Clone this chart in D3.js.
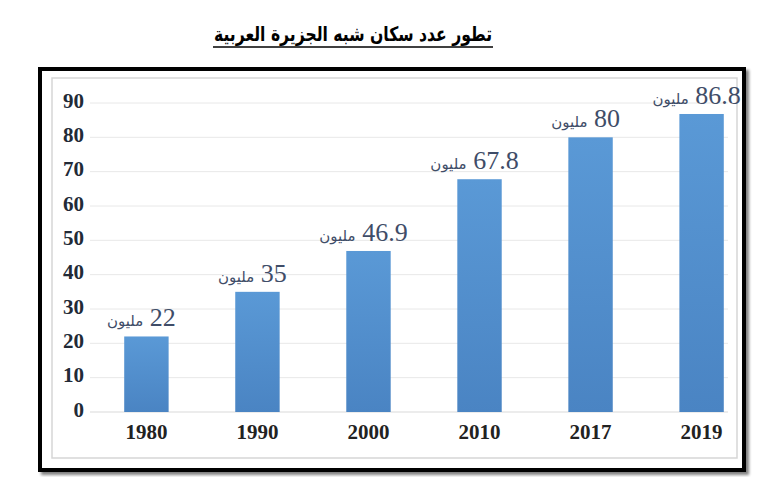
<!DOCTYPE html>
<html>
<head>
<meta charset="utf-8">
<script src="https://cdn.jsdelivr.net/npm/d3@7"></script>
<style>
  body { margin: 0; background: #fff; }
</style>
</head>
<body>
<div id="chart"></div>
<script>

var titleText = 'تطور عدد سكان شبه الجزيرة العربية';
var unitText = 'مليون';
var years = ['1980', '1990', '2000', '2010', '2017', '2019'];
var population = [22, 35, 46.9, 67.8, 80, 86.8];
var yTicks = [0, 10, 20, 30, 40, 50, 60, 70, 80, 90];

var width = 771;
var height = 477;

var svg = d3.select('#chart')
  .append('svg')
  .attr('width', width)
  .attr('height', height);

var defs = svg.append('defs');

var grad = defs.append('linearGradient')
  .attr('id', 'barFill')
  .attr('x1', 0).attr('y1', 0)
  .attr('x2', 0).attr('y2', 1);
grad.append('stop').attr('offset', '0%').attr('stop-color', '#5a99d6');
grad.append('stop').attr('offset', '100%').attr('stop-color', '#4a84c3');

var shadow = defs.append('filter').attr('id', 'shadow')
  .attr('x', '-5%').attr('y', '-5%').attr('width', '110%').attr('height', '110%');
shadow.append('feGaussianBlur').attr('in', 'SourceAlpha').attr('stdDeviation', 1.5);
shadow.append('feOffset').attr('dx', 3).attr('dy', 3).attr('result', 'off');
shadow.append('feComponentTransfer').append('feFuncA').attr('type', 'linear').attr('slope', 0.5);
var merge = shadow.append('feMerge');
merge.append('feMergeNode');
merge.append('feMergeNode').attr('in', 'SourceGraphic');

// title + underline
var title = svg.append('text')
  .attr('x', 353)
  .attr('y', 41)
  .attr('text-anchor', 'middle')
  .attr('font-family', 'DejaVu Sans')
  .attr('font-weight', 'bold')
  .attr('font-size', 20)
  .attr('textLength', 278)
  .attr('lengthAdjust', 'spacingAndGlyphs')
  .attr('fill', '#000')
  .text(titleText);

svg.append('line')
  .attr('x1', 353 - 140).attr('x2', 353 + 140)
  .attr('y1', 47).attr('y2', 47)
  .attr('stroke', '#000')
  .attr('stroke-width', 1.5);

// frames
svg.append('rect')
  .attr('x', 40).attr('y', 69)
  .attr('width', 704).attr('height', 401)
  .attr('fill', '#fff')
  .attr('stroke', '#000')
  .attr('stroke-width', 4)
  .attr('filter', 'url(#shadow)');

svg.append('rect')
  .attr('x', 52).attr('y', 78)
  .attr('width', 685).attr('height', 380)
  .attr('fill', '#fff')
  .attr('stroke', '#d6d6d6')
  .attr('stroke-width', 1.5);

// scales
var x = d3.scaleBand()
  .domain(years)
  .range([102, 746])
  .paddingInner(0.6)
  .paddingOuter(0.2);

var y = d3.scaleLinear()
  .domain([0, 90])
  .range([412, 103]);

// gridlines
svg.append('g')
  .attr('class', 'grid')
  .selectAll('line')
  .data(yTicks)
  .enter()
  .append('line')
  .attr('x1', 90)
  .attr('x2', 728)
  .attr('y1', function(d) { return y(d); })
  .attr('y2', function(d) { return y(d); })
  .attr('stroke', function(d) { return d == 0 ? '#d9d9d9' : '#e8e8e8'; })
  .attr('stroke-width', 1);

// y axis labels
var yAxis = svg.append('g')
  .attr('transform', 'translate(84,0)')
  .call(d3.axisLeft(y).tickValues(yTicks).tickSize(0).tickPadding(0));
yAxis.select('.domain').remove();
yAxis.selectAll('text')
  .attr('font-family', 'Liberation Serif')
  .attr('font-weight', 'bold')
  .attr('font-size', 21)
  .attr('fill', '#222a36')
  .attr('dy', '0.2em');

// x axis labels
var xAxis = svg.append('g')
  .attr('transform', 'translate(0,' + y(0) + ')')
  .call(d3.axisBottom(x).tickSize(0).tickPadding(12));
xAxis.select('.domain').remove();
xAxis.selectAll('text')
  .attr('font-family', 'Liberation Serif')
  .attr('font-weight', 'bold')
  .attr('font-size', 21)
  .attr('fill', '#222');

// bars
var data = years.map(function(yr, i) { return {year: yr, value: population[i]}; });

svg.selectAll('rect.bar')
  .data(data)
  .enter()
  .append('rect')
  .attr('class', 'bar')
  .attr('x', function(d) { return x(d.year); })
  .attr('y', function(d) { return y(d.value); })
  .attr('width', x.bandwidth())
  .attr('height', function(d) { return y(0) - y(d.value); })
  .attr('fill', 'url(#barFill)');

// value labels: word on the left, number on the right
var labels = svg.selectAll('text.val')
  .data(data)
  .enter()
  .append('text')
  .attr('class', 'val')
  .attr('x', function(d) { return x(d.year) + x.bandwidth() / 2 - 5; })
  .attr('y', function(d) { return y(d.value) - 10; })
  .attr('text-anchor', 'middle')
  .attr('fill', '#3f4d68');

labels.append('tspan')
  .attr('font-family', 'DejaVu Sans')
  .attr('font-size', 15)
  .text('\u200e' + unitText + '\u200e');

labels.append('tspan')
  .attr('font-family', 'Liberation Serif')
  .attr('font-size', 26)
  .text(function(d) { return '\u200e\u00a0' + d.value; });

</script>
</body>
</html>
